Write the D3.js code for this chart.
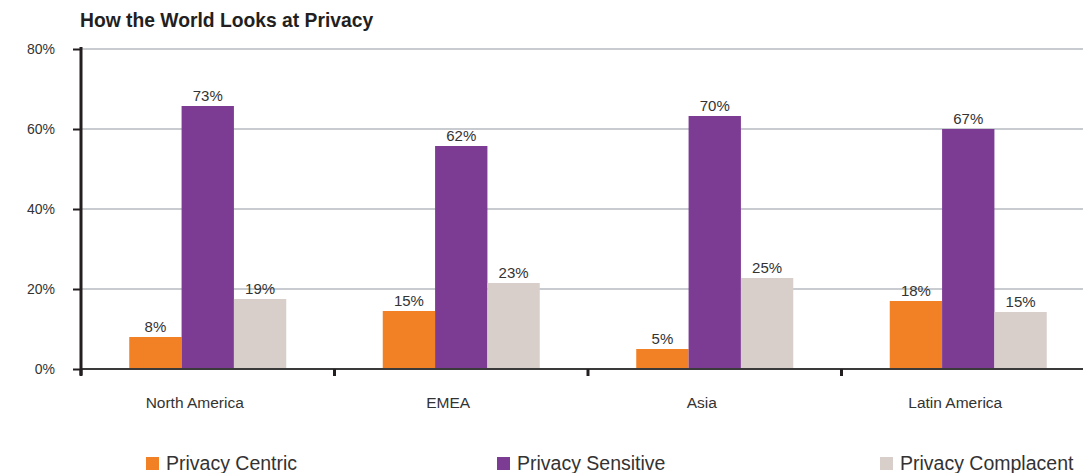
<!DOCTYPE html>
<html>
<head>
<meta charset="utf-8">
<script src="https://cdn.jsdelivr.net/npm/d3@7"></script>
<style>
body { margin: 0; background: #fff; }
text { font-family: "Liberation Sans", Arial, sans-serif; fill: #333; }
</style>
</head>
<body>
<svg width="1083" height="473"></svg>
<script>
var regions = ["North America", "EMEA", "Asia", "Latin America"];
var seriesNames = ["Privacy Centric", "Privacy Sensitive", "Privacy Complacent"];
// bar heights as drawn in the picture
var centric = [8, 14.5, 5, 17];
var sensitive = [65.75, 55.75, 63.25, 60];
var complacent = [17.5, 21.5, 22.75, 14.25];
// printed labels above the bars
var centricLabels = ["8%", "15%", "5%", "18%"];
var sensitiveLabels = ["73%", "62%", "70%", "67%"];
var complacentLabels = ["19%", "23%", "25%", "15%"];
var yTicks = [0, 20, 40, 60, 80];
var colors = ["#f28024", "#7c3c93", "#d8cfca"];

var svg = d3.select("svg");
var values = [centric, sensitive, complacent];
var labels = [centricLabels, sensitiveLabels, complacentLabels];

var x = d3.scaleBand().domain(regions).range([81, 1095]);
var x1 = d3.scaleBand().domain(d3.range(3)).range([0, 157]);
var y = d3.scaleLinear().domain([0, 80]).range([369, 49]);

// title
svg.append("text")
	.attr("x", 80).attr("y", 27)
	.style("font-weight", "bold").style("font-size", "19.3px").style("fill", "#231f20")
	.text("How the World Looks at Privacy");

// grid
svg.append("g").selectAll("line")
	.data(yTicks.filter(function(d) { return d > 0; }))
	.enter().append("line")
	.attr("x1", 81).attr("x2", 1083)
	.attr("y1", function(d) { return y(d); }).attr("y2", function(d) { return y(d); })
	.style("stroke", "#c8ccd0").style("stroke-width", 2);

// y axis
var yAxis = svg.append("g").attr("transform", "translate(81,0)")
	.call(d3.axisLeft(y).tickValues(yTicks).tickSize(8).tickFormat(function(d) { return d + "%"; }));
yAxis.select(".domain").remove();
yAxis.selectAll(".tick line").style("stroke", "#231f20").style("stroke-width", 2);
yAxis.selectAll(".tick text").attr("x", -26).attr("dy", "0.32em")
	.style("font-size", "14px").style("fill", "#333").style("font-family", "Liberation Sans, Arial, sans-serif");

// bars
var groups = svg.append("g").selectAll("g")
	.data(regions)
	.enter().append("g")
	.attr("transform", function(d) { return "translate(" + (x(d) + (x.bandwidth() - 157) / 2) + ",0)"; });

groups.selectAll("rect")
	.data(function(d, i) { return values.map(function(s, k) { return {k: k, v: s[i], label: labels[k][i]}; }); })
	.enter().append("rect")
	.attr("x", function(d) { return x1(d.k); })
	.attr("width", x1.bandwidth())
	.attr("y", function(d) { return y(d.v); })
	.attr("height", function(d) { return y(0) - y(d.v); })
	.style("fill", function(d) { return colors[d.k]; });

groups.selectAll("text")
	.data(function(d, i) { return values.map(function(s, k) { return {k: k, v: s[i], label: labels[k][i]}; }); })
	.enter().append("text")
	.attr("x", function(d) { return x1(d.k) + x1.bandwidth() / 2; })
	.attr("y", function(d) { return y(d.v) - 5; })
	.attr("text-anchor", "middle")
	.style("font-size", "15px")
	.text(function(d) { return d.label; });

// x axis baseline and ticks
svg.append("line")
	.attr("x1", 81).attr("x2", 1083).attr("y1", y(0)).attr("y2", y(0))
	.style("stroke", "#3a3a3a").style("stroke-width", 2);
svg.append("g").selectAll("line")
	.data(regions)
	.enter().append("line")
	.attr("x1", function(d) { return x(d); }).attr("x2", function(d) { return x(d); })
	.attr("y1", y(0)).attr("y2", y(0) + 7)
	.style("stroke", "#231f20").style("stroke-width", 3);
svg.append("line")
	.attr("x1", 81).attr("x2", 81).attr("y1", 47).attr("y2", 375)
	.style("stroke", "#231f20").style("stroke-width", 3);

svg.append("g").selectAll("text")
	.data(regions)
	.enter().append("text")
	.attr("x", function(d) { return x(d) + x.bandwidth() / 2 - 13; })
	.attr("y", 408)
	.attr("text-anchor", "middle")
	.style("font-size", "15.5px")
	.text(function(d) { return d; });

// legend
var legendX = [146, 497, 880];
var legend = svg.append("g").selectAll("g")
	.data(seriesNames)
	.enter().append("g")
	.attr("transform", function(d, i) { return "translate(" + legendX[i] + ",457)"; });
legend.append("rect").attr("width", 13).attr("height", 13)
	.style("fill", function(d, i) { return colors[i]; });
legend.append("text").attr("x", 20).attr("y", 13)
	.style("font-size", "19.5px")
	.text(function(d) { return d; });
</script>
</body>
</html>
